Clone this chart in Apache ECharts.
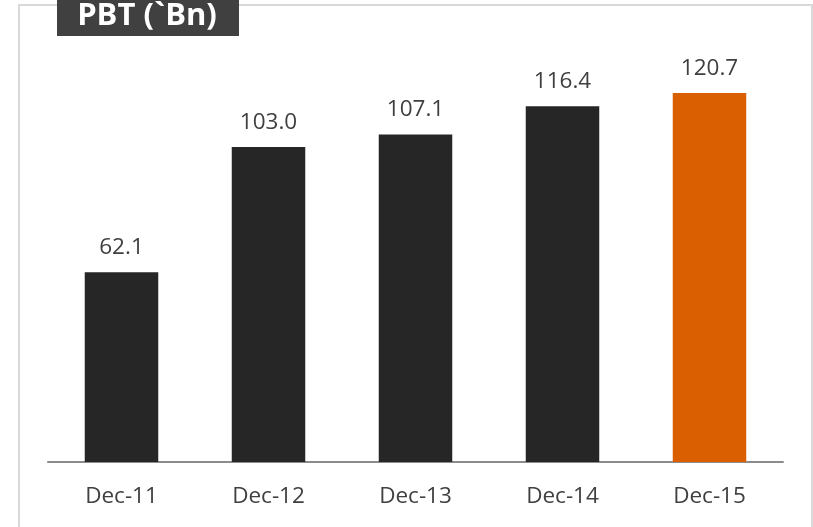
<!DOCTYPE html>
<html>
<head>
<meta charset="utf-8">
<script src="https://cdn.jsdelivr.net/npm/echarts@6/dist/echarts.min.js"></script>
<style>
  html, body { margin: 0; padding: 0; background: #ffffff; }
  #chart { width: 813px; height: 527px; }
</style>
</head>
<body>
<div id="chart"></div>
<script>
// Profit before tax by year
const categories = ['Dec-11', 'Dec-12', 'Dec-13', 'Dec-14', 'Dec-15'];
const pbtValues = [62.1, 103.0, 107.1, 116.4, 120.7];
const titleText = 'PBT (`Bn)';

const barColor = '#262626';
const highlightColor = '#DA5F00';
const fontStack = 'Open Sans, Liberation Sans, sans-serif';

const chart = echarts.init(document.getElementById('chart'));

chart.setOption({
  animation: false,
  backgroundColor: '#ffffff',
  grid: { left: 48, right: 30, top: 34, bottom: 65 },
  xAxis: {
    type: 'category',
    data: categories,
    axisLine: { lineStyle: { color: '#8c8c8c', width: 2 } },
    axisTick: { show: false },
    axisLabel: {
      color: '#404040',
      fontSize: 22.5,
      fontFamily: fontStack,
      margin: 23
    }
  },
  yAxis: {
    type: 'value',
    min: 0,
    max: 140,
    show: false,
    splitLine: { show: false }
  },
  series: [{
    type: 'bar',
    barWidth: '50%',
    data: pbtValues.map((v, i) => ({
      value: v,
      itemStyle: { color: i === pbtValues.length - 1 ? highlightColor : barColor }
    })),
    label: {
      show: true,
      position: 'top',
      distance: 13,
      color: '#404040',
      fontSize: 22.5,
      fontFamily: fontStack,
      formatter: p => p.value.toFixed(1)
    }
  }],
  graphic: [
    {
      type: 'rect',
      shape: { x: 19, y: 5, width: 793, height: 540 },
      style: { fill: 'none', stroke: '#d9d9d9', lineWidth: 2 },
      z: 0
    },
    {
      type: 'rect',
      shape: { x: 57, y: 0, width: 182, height: 36 },
      style: { fill: '#404040' },
      z: 10
    },
    {
      type: 'text',
      x: 147,
      y: 16,
      style: {
        text: titleText,
        fill: '#ffffff',
        fontSize: 31,
        fontWeight: 'bold',
        fontFamily: fontStack,
        textAlign: 'center',
        textVerticalAlign: 'middle'
      },
      z: 11
    }
  ]
});
</script>
</body>
</html>
